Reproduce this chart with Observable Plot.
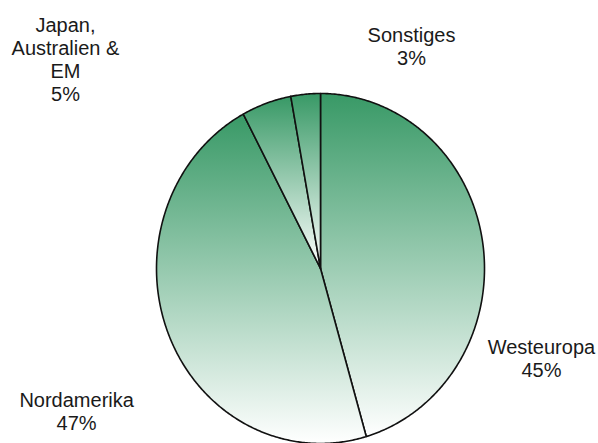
<!DOCTYPE html>
<html>
<head>
<meta charset="utf-8">
<script src="https://cdn.jsdelivr.net/npm/d3@7"></script>
<script src="https://cdn.jsdelivr.net/npm/@observablehq/plot@0.6"></script>
<style>
  html, body { margin: 0; padding: 0; background: #fff; }
</style>
</head>
<body>
<div id="chart"></div>
<script>
// Data (clockwise from 12 o'clock)
const regions = ["Westeuropa", "Nordamerika", "Japan,\nAustralien &\nEM", "Sonstiges"];
const shares = [45.5, 46.7, 4.9, 2.9];
const shareLabels = ["45%", "47%", "5%", "3%"];

// Label anchor positions (in the pie's unit coordinates)
const labelX = [1.347, -1.487, -1.555, 0.555];
const labelY = [-0.51, -0.815, 1.197, 1.268];

// Build slice outlines from the pie layout
const pie = d3.pie().sort(null).value(d => d.value);
const arcs = pie(regions.map((name, i) => ({name, value: shares[i]})));
const pts = [];
for (const a of arcs) {
  const name = a.data.name;
  pts.push({name, x: 0, y: 0});
  const n = Math.max(4, Math.ceil((a.endAngle - a.startAngle) / (Math.PI / 360)));
  for (let k = 0; k <= n; k++) {
    const t = a.startAngle + (a.endAngle - a.startAngle) * k / n;
    pts.push({name, x: Math.sin(t), y: Math.cos(t)});
  }
  pts.push({name, x: 0, y: 0});
}

const labels = regions.map((r, i) => ({text: r + "\n" + shareLabels[i], x: labelX[i], y: labelY[i]}));

const plot = Plot.plot({
  width: 598,
  height: 443,
  margin: 0,
  x: {domain: [-1, 1], range: [156, 484], axis: null},
  y: {domain: [-1, 1], range: [443, 93], axis: null},
  style: {fontFamily: "Liberation Sans, Arial, sans-serif", background: "#fff"},
  marks: [
    Plot.line(pts, {x: "x", y: "y", z: "name", fill: "url(#sliceGrad)", stroke: "#111", strokeWidth: 1.6, strokeLinejoin: "round", curve: "linear"}),
    Plot.text(labels, {x: "x", y: "y", text: "text", fontSize: 20, lineHeight: 1.15, fill: "#1a1a1a", textAnchor: "middle", lineAnchor: "middle"})
  ]
});

const defs = d3.select(plot).insert("defs", ":first-child");
const g = defs.append("linearGradient").attr("id", "sliceGrad")
  .attr("x1", 0).attr("y1", 0).attr("x2", 0).attr("y2", 1);
g.append("stop").attr("offset", "0%").attr("stop-color", "#389966");
g.append("stop").attr("offset", "100%").attr("stop-color", "#ffffff");

document.getElementById("chart").appendChild(plot);
</script>
</body>
</html>
